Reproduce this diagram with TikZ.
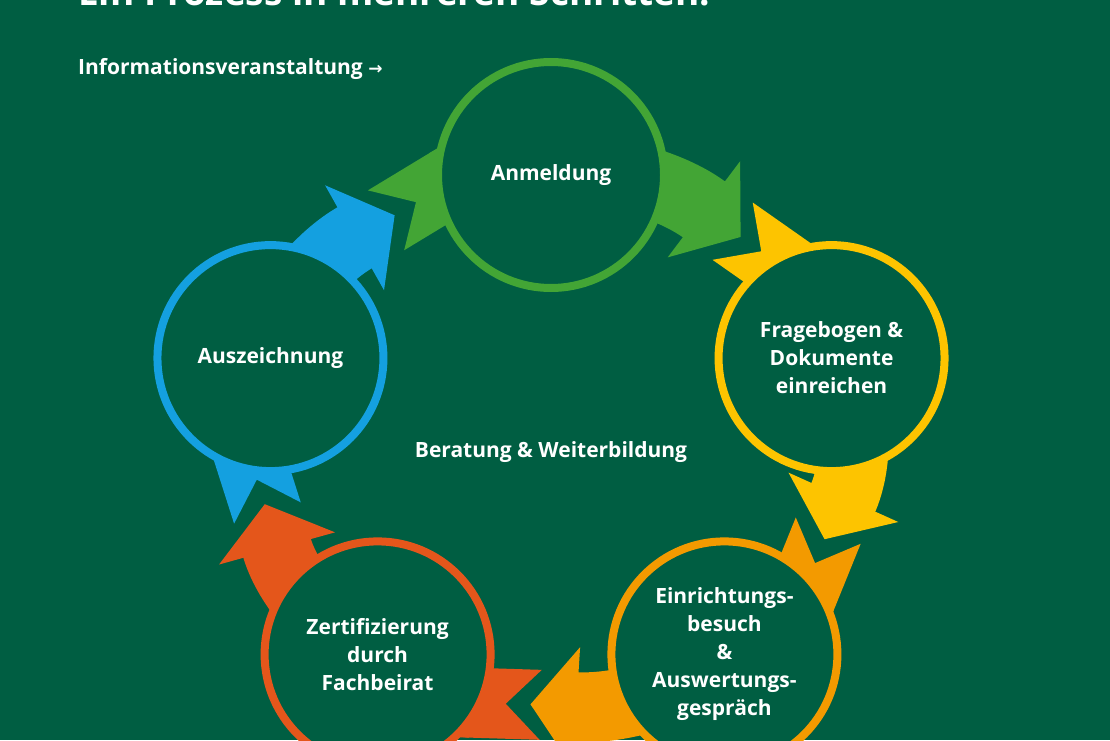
\documentclass[tikz,border=0pt]{standalone}
\usepackage{fontspec}
\setmainfont{Open Sans}
\usetikzlibrary{arrows.meta}

\definecolor{bgreen}{RGB}{0,94,66}
\definecolor{cgreen}{RGB}{67,165,53}
\definecolor{cyellow}{RGB}{253,196,0}
\definecolor{corange}{RGB}{243,154,0}
\definecolor{cred}{RGB}{228,86,27}
\definecolor{cblue}{RGB}{20,160,224}

\tikzset{
  band/.style={line width=70pt,
    arrows={Triangle Cap[reversed]-Triangle[length=46pt,width=118pt]}},
  phase/.style={circle,minimum size=226pt,line width=8pt,fill=bgreen,
    text=white,align=center,font=\bfseries\fontsize{21}{28}\selectfont},
  lbl/.style={text=white,font=\bfseries\fontsize{21}{26}\selectfont}
}

\begin{document}
\begin{tikzpicture}[x=1pt,y=1pt]
\useasboundingbox (0,0) rectangle (1110,740);
\clip (0,0) rectangle (1110,740);
\fill[bgreen] (0,0) rectangle (1110,740);

% title, cut at the top
\node[anchor=base west,inner sep=0pt,text=white,
  font=\bfseries\fontsize{37}{37}\selectfont] (title) at (78,734)
  {Ein Prozess in mehreren Schritten.};
\node[lbl,anchor=base west,inner sep=0pt] (info) at (78,665)
  {Informationsveranstaltung \fontspec{DejaVu Sans}\fontsize{17}{17}\selectfont→};

\begin{scope}[shift={(551,300)}]
% curved arrows along the cycle
\foreach \a/\c in {90/cgreen,18/cyellow,-54/corange,-126/cred,162/cblue}
  \draw[band,\c] ({\a+34}:295 and 265)
    arc[start angle=\a+34,end angle=\a-40,x radius=295,y radius=265];

\node[phase,draw=cgreen] (anm) at (90:295 and 265) {Anmeldung};
\node[phase,draw=cyellow] (frag) at (18:295 and 265) {Fragebogen \&\\Dokumente\\einreichen};
\node[phase,draw=corange] (ein) at (-54:295 and 265)
  {Einrichtungs-\\besuch\\\&\\Auswertungs-\\gespräch};
\node[phase,draw=cred] (zert) at (-126:295 and 265) {Zertifizierung\\durch\\Fachbeirat};
\node[phase,draw=cblue] (ausz) at (162:295 and 265) {Auszeichnung};
\end{scope}

\node[lbl] (mitte) at (551,288) {Beratung \& Weiterbildung};
\end{tikzpicture}
\end{document}
